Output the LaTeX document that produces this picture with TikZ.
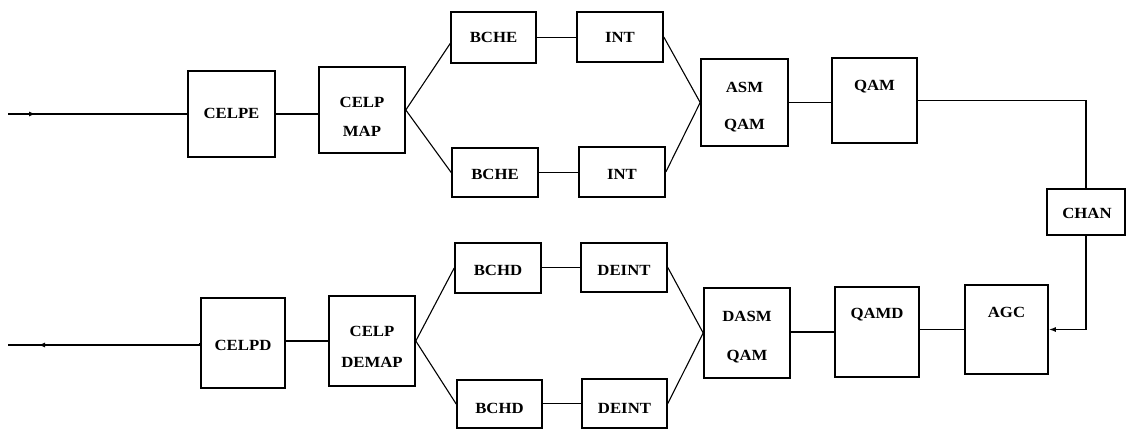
\documentclass[tikz,border=0pt]{standalone}
\usepackage{fontspec}
\newfontfamily\lblfont{Liberation Serif}[FakeStretch=1.08]
\usetikzlibrary{arrows.meta,decorations.markings,calc}
\tikzset{
  blk/.style={draw=black, line width=1.6pt, inner sep=0pt, rectangle},
  lbl/.style={inner sep=0pt, text height=10.5pt, text depth=0pt, font=\lblfont\bfseries\fontsize{15.5}{17}\selectfont},
  wire/.style={line width=1.7pt},
  diag/.style={line width=1.1pt},
  tipin/.style={postaction={decorate}, decoration={markings, mark=at position #1 with {\arrow{Latex[length=7pt,width=5pt]}}}},
}
\begin{document}
\begin{tikzpicture}[x=1pt,y=-1pt]
\useasboundingbox (0,0) rectangle (1127,431);
% boxes
\node[blk, minimum width=87pt, minimum height=86pt] (celpe) at (231.5,114) {};
\node[blk, minimum width=86pt, minimum height=86pt] (map) at (362,110) {};
\node[blk, minimum width=85pt, minimum height=51pt] (bche1) at (493.5,37.5) {};
\node[blk, minimum width=86pt, minimum height=50pt] (int1) at (620,37) {};
\node[blk, minimum width=87pt, minimum height=87pt] (asm) at (744.5,102.5) {};
\node[blk, minimum width=85pt, minimum height=85pt] (qam) at (874.5,100.5) {};
\node[blk, minimum width=86pt, minimum height=49pt] (bche2) at (495,172.5) {};
\node[blk, minimum width=86pt, minimum height=50pt] (int2) at (622,172) {};
\node[blk, minimum width=78pt, minimum height=46pt] (chan) at (1086,212) {};
\node[blk, minimum width=83pt, minimum height=89pt] (agc) at (1006.5,329.5) {};
\node[blk, minimum width=84pt, minimum height=90pt] (qamd) at (877,332) {};
\node[blk, minimum width=86pt, minimum height=90pt] (dasm) at (747,333) {};
\node[blk, minimum width=86pt, minimum height=50pt] (bchd1) at (498,268) {};
\node[blk, minimum width=86pt, minimum height=49pt] (deint1) at (624,267.5) {};
\node[blk, minimum width=85pt, minimum height=48pt] (bchd2) at (499.5,404) {};
\node[blk, minimum width=85pt, minimum height=49pt] (deint2) at (624.5,403.5) {};
\node[blk, minimum width=84pt, minimum height=90pt] (celpd) at (243,343) {};
\node[blk, minimum width=86pt, minimum height=90pt] (demap) at (372,341) {};
% labels
\node[lbl] (tcelpe) at (231.5,113) {CELPE};
\node[lbl] (tmap1) at (362,102) {CELP};
\node[lbl] (tmap2) at (362,131) {MAP};
\node[lbl] (tbche1) at (493.5,37) {BCHE};
\node[lbl] (tint1) at (620,37) {INT};
\node[lbl] (tasm1) at (744.5,87) {ASM};
\node[lbl] (tasm2) at (744.5,124) {QAM};
\node[lbl] (tqam) at (874.5,85) {QAM};
\node[lbl] (tbche2) at (495,174) {BCHE};
\node[lbl] (tint2) at (622,174) {INT};
\node[lbl] (tchan) at (1087,213) {CHAN};
\node[lbl] (tagc) at (1006.5,312) {AGC};
\node[lbl] (tqamd) at (877,313) {QAMD};
\node[lbl] (tdasm1) at (747,316) {DASM};
\node[lbl] (tdasm2) at (747,355) {QAM};
\node[lbl] (tbchd1) at (498,270) {BCHD};
\node[lbl] (tdeint1) at (624,270) {DEINT};
\node[lbl] (tbchd2) at (499.5,408) {BCHD};
\node[lbl] (tdeint2) at (624.5,408) {DEINT};
\node[lbl] (tcelpd) at (243,345) {CELPD};
\node[lbl] (tdemap1) at (372,331) {CELP};
\node[lbl] (tdemap2) at (372,362) {DEMAP};
% terminals
\coordinate (in) at (8,114);
\coordinate (out) at (8,345);
% connectors, transmitter
\draw[wire, tipin=28pt] (in) -- (celpe.west);
\draw[wire] (celpe.east) -- (celpe.east -| map.west);
\draw[diag] (map.east) -- ($(bche1.west)+(0,6)$);
\draw[diag] (map.east) -- (bche2.west);
\draw[wire] (bche1.east) -- (bche1.east -| int1.west);
\draw[wire] (bche2.east) -- (bche2.east -| int2.west);
\draw[diag] (int1.east) -- (asm.west);
\draw[diag] (int2.east) -- (asm.west);
\draw[wire] (asm.east) -- (asm.east -| qam.west);
\draw[wire] (qam.east) -| (chan.north);
% receiver
\draw[wire, -{Latex[length=7pt,width=5pt]}] (chan.south) |- (agc.east);
\draw[wire] (agc.west) -- (agc.west -| qamd.east);
\draw[wire] (qamd.west) -- (qamd.west -| dasm.east);
\draw[diag] (dasm.west) -- (deint1.east);
\draw[diag] (dasm.west) -- (deint2.east);
\draw[wire] (deint1.west) -- (deint1.west -| bchd1.east);
\draw[wire] (deint2.west) -- (deint2.west -| bchd2.east);
\draw[diag] (bchd1.west) -- (demap.east);
\draw[diag] (bchd2.west) -- (demap.east);
\draw[wire] (demap.west) -- (demap.west -| celpd.east);
\draw[wire] (celpd.west) -- (celpd.west |- out);
\draw[wire, tipin=-30pt] (celpd.west |- out) -- (out);
\end{tikzpicture}
\end{document}
